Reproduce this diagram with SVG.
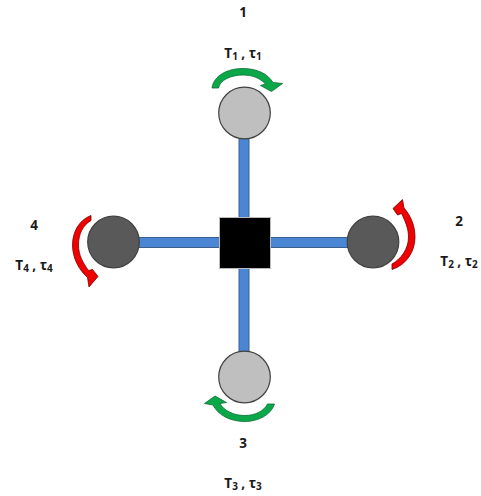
<svg xmlns="http://www.w3.org/2000/svg" width="481" height="496" viewBox="0 0 481 496">
<style>
.t{font-family:"Open Sans","Liberation Sans",Arial,sans-serif;font-size:13.5px;font-weight:700;fill:#1a1a1a;text-anchor:middle}
.s{font-size:10px}
.l{fill:#bfbfbf;stroke:#404040;stroke-width:1.2}
.d{fill:#595959;stroke:#404040;stroke-width:1.2}
.g{fill:#0ba84a;stroke:#0a6b34;stroke-width:.8}
.r{fill:#f00000;stroke:#7a0000;stroke-width:.8}
.b{fill:#4a86d4;stroke:#3d5f8c;stroke-width:1}
</style>
<rect width="481" height="496" fill="#fff"/>
<g id="connectors">
<rect class="b" x="239" y="135" width="10" height="220"/>
<rect class="b" x="135" y="237.500" width="216" height="10"/>
</g>
<g id="hub"><rect x="219.500" y="217.500" width="51" height="51" fill="#000" stroke="#bbb" stroke-width="1"/></g>
<g id="rotor1">
<circle class="l" cx="244.500" cy="113" r="25.800"/>
<path class="g" d="M212 88C214 75 228 68.500 243 68.500C257 68.500 268 74 273 82.500L282.500 83.500L271.500 91.500L260.500 85.500L265.500 84C260 78 252 75 243 75C231 75 220 80 218.500 88Z"/>
<text class="t" x="243" y="17">1</text>
<text class="t" x="243" y="57.500">T<tspan class="s" dy="2">1</tspan><tspan dy="-2"> , τ</tspan><tspan class="s" dy="2">1</tspan></text>
</g>
<g id="rotor2">
<circle class="d" cx="373" cy="242" r="25.800"/>
<path class="r" d="M392 269.500C406 265 415 252 415 237C415 226 411 216 404 208L402.500 199.500L393 208.500L397.500 215L401.500 213.500C405 221 408.500 228 408.500 237C408.500 249 401 259 392 264Z"/>
<text class="t" x="459" y="226">2</text>
<text class="t" x="459" y="266">T<tspan class="s" dy="2">2</tspan><tspan dy="-2"> , τ</tspan><tspan class="s" dy="2">2</tspan></text>
</g>
<g id="rotor3">
<circle class="l" cx="244.500" cy="377" r="25.800"/>
<path class="g" d="M274.500 404C271 415 258 421.500 245 421.500C230 421.500 218 415 213 405L204.500 403.500L215 396L226.500 402.500L220 403.500C224 411 234 415.500 245 415.500C255 415.500 264 411 267.500 404Z"/>
<text class="t" x="243" y="447.500">3</text>
<text class="t" x="243" y="488">T<tspan class="s" dy="2">3</tspan><tspan dy="-2"> , τ</tspan><tspan class="s" dy="2">3</tspan></text>
</g>
<g id="rotor4">
<circle class="d" cx="113.500" cy="242" r="25.800"/>
<path class="r" d="M91 215.500C79 220 72.500 232 72.500 245C72.500 258 79 270 87.500 277.500L89 287L98 276.500L92.500 269.500L88.500 270.500C83 263 78.500 255 78.500 245C78.500 234 83 225 91 220.500Z"/>
<text class="t" x="34" y="230">4</text>
<text class="t" x="34" y="269.500">T<tspan class="s" dy="2">4</tspan><tspan dy="-2"> , τ</tspan><tspan class="s" dy="2">4</tspan></text>
</g>
</svg>
